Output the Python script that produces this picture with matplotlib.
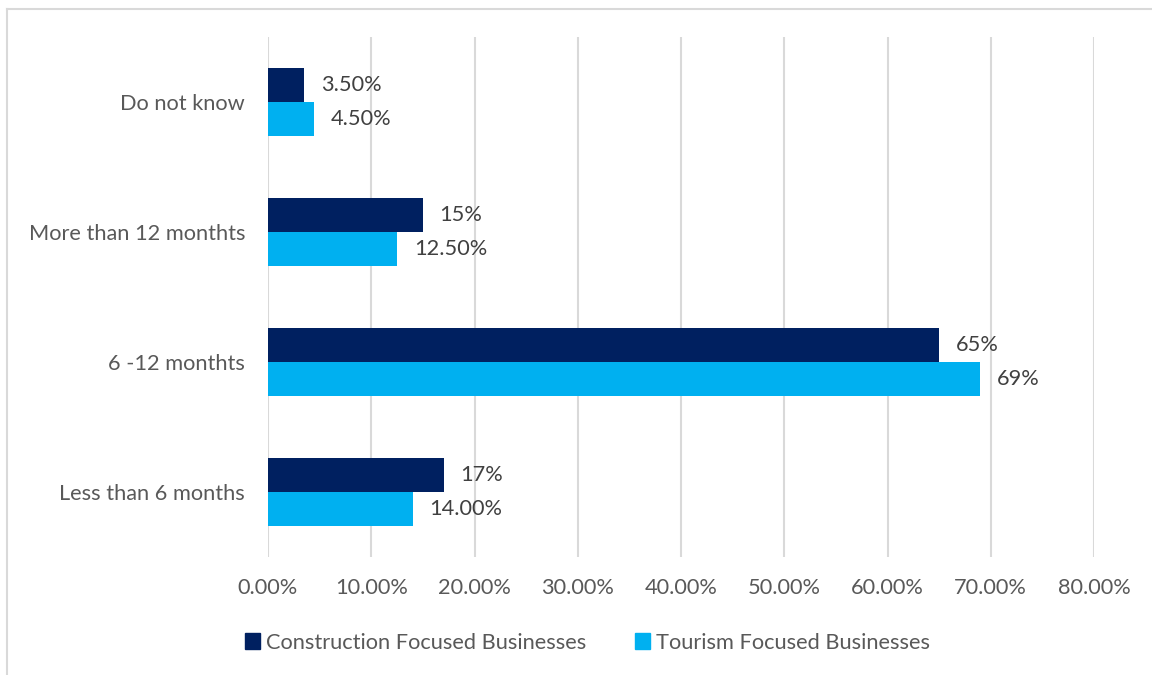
import numpy as np
import matplotlib
matplotlib.use("Agg")
from matplotlib import pyplot as plt
from matplotlib.lines import Line2D
from matplotlib.patches import Patch

# bottom to top, as the categories are listed on the y axis
categories = ['Less than 6 months', '6 -12 monthts', 'More than 12 monthts', 'Do not know']
construction = [17, 65, 15, 3.5]
tourism = [14, 69, 12.5, 4.5]
construction_labels = ['17%', '65%', '15%', '3.50%']
tourism_labels = ['14.00%', '69%', '12.50%', '4.50%']
xticks = [0, 10, 20, 30, 40, 50, 60, 70, 80]

plt.rcParams['font.family'] = ['Lato', 'DejaVu Sans']

navy = '#002060'
sky = '#00B0F0'
grid_col = '#D9D9D9'
text_col = '#595959'
fs = 15.7

fig = plt.figure(figsize=(11.52, 6.75), dpi=100)
ax = fig.add_axes([268 / 1152, 1 - 557 / 675, (1094 - 268) / 1152, (557 - 37) / 675])

y = np.arange(len(categories))
h = 0.262
ax.barh(y + h / 2, construction, height=h, color=navy, zorder=3)
ax.barh(y - h / 2, tourism, height=h, color=sky, zorder=3)

for yi, v, lab in zip(y, construction, construction_labels):
    ax.annotate(lab, (v, yi + h / 2), xytext=(12, 0), textcoords='offset points',
                va='center', ha='left', fontsize=fs, color='#404040')
for yi, v, lab in zip(y, tourism, tourism_labels):
    ax.annotate(lab, (v, yi - h / 2), xytext=(12, 0), textcoords='offset points',
                va='center', ha='left', fontsize=fs, color='#404040')

ax.set_xlim(0, 80)
ax.set_ylim(-0.5, len(categories) - 0.5)
ax.set_xticks(xticks)
ax.set_xticklabels(['{:.2f}%'.format(t) for t in xticks])
ax.set_yticks(y)
ax.set_yticklabels(categories)
ax.tick_params(axis='both', length=0, labelsize=fs, labelcolor=text_col)
ax.tick_params(axis='x', pad=15)
ax.tick_params(axis='y', pad=16.5)
ax.grid(axis='x', color=grid_col, linewidth=1.5, zorder=0)
for s in ax.spines.values():
    s.set_visible(False)

handles = [Patch(color=navy), Patch(color=sky)]
fig.legend(handles, ['Construction Focused Businesses', 'Tourism Focused Businesses'],
           loc='center', bbox_to_anchor=(0.51, 0.048), ncol=2, frameon=False,
           fontsize=fs, labelcolor=text_col, handlelength=0.7, handleheight=0.7,
           handletextpad=0.25, columnspacing=2.25)

# outer chart frame (only the top and left edges fall inside the image)
fig.add_artist(Line2D([7 / 1152, 1], [1 - 9 / 675, 1 - 9 / 675], color=grid_col, linewidth=1.5))
fig.add_artist(Line2D([7 / 1152, 7 / 1152], [0, 1 - 9 / 675], color=grid_col, linewidth=1.5))

fig.savefig('out.png', dpi=100, facecolor='white')
